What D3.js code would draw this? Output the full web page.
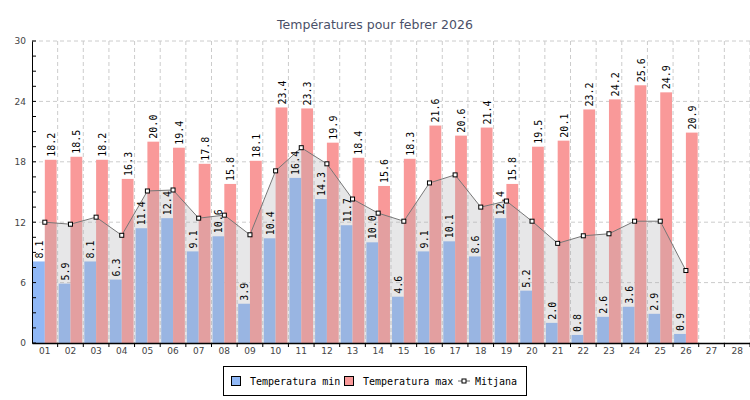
<!DOCTYPE html>
<html>
<head>
<meta charset="utf-8">
<script src="https://cdn.jsdelivr.net/npm/d3@7.9.0/dist/d3.min.js"></script>
<style>
body { margin: 0; background: #fff; }
svg { display: block; }
</style>
</head>
<body>
<svg id="chart" width="750" height="400"></svg>
<script>
const days = d3.range(1, 29).map(d => String(d).padStart(2, '0'));
const tMin = [8.1, 5.9, 8.1, 6.3, 11.4, 12.4, 9.1, 10.6, 3.9, 10.4, 16.4, 14.3, 11.7, 10.0,
  4.6, 9.1, 10.1, 8.6, 12.4, 5.2, 2.0, 0.8, 2.6, 3.6, 2.9, 0.9];
const tMax = [18.2, 18.5, 18.2, 16.3, 20.0, 19.4, 17.8, 15.8, 18.1, 23.4, 23.3, 19.9, 18.4, 15.6,
  18.3, 21.6, 20.6, 21.4, 15.8, 19.5, 20.1, 23.2, 24.2, 25.6, 24.9, 20.9];
const tMean = [12.0, 11.8, 12.5, 10.7, 15.1, 15.2, 12.4, 12.7, 10.75, 17.1, 19.4, 17.8, 14.3, 12.9,
  12.1, 15.9, 16.7, 13.5, 14.1, 12.1, 9.9, 10.65, 10.85, 12.1, 12.1, 7.2];
const yTicks = [0, 6, 12, 18, 24, 30];

const svg = d3.select('#chart');
const mLeft = 32, mRight = 750, mTop = 41, mBottom = 343;
const x = d3.scaleBand().domain(days).range([mLeft, mRight]);
const y = d3.scaleLinear().domain([0, 30]).range([mBottom, mTop]);
const bw = x.bandwidth();
const barW = bw * 0.46;
const blue = '#90b8f6', pink = '#f99999';
const mono = 'DejaVu Sans Mono, monospace';

svg.append('text')
  .attr('x', 375).attr('y', 29)
  .attr('text-anchor', 'middle')
  .attr('font-family', 'DejaVu Sans, sans-serif')
  .attr('font-size', 12.5)
  .attr('fill', '#4a5068')
  .text('Températures pour febrer 2026');

// grid
const grid = svg.append('g').attr('stroke', '#cccccc').attr('stroke-dasharray', '4,3');
yTicks.slice(1).forEach(t => {
  grid.append('line').attr('x1', mLeft).attr('x2', mRight).attr('y1', y(t)).attr('y2', y(t));
});
days.forEach(d => {
  const xx = x(d) + bw;
  grid.append('line').attr('x1', xx).attr('x2', xx).attr('y1', mTop).attr('y2', mBottom);
});

// bars
svg.append('g').selectAll('rect.min').data(tMin).join('rect')
  .attr('x', (v, i) => x(days[i]) + bw / 2 - barW)
  .attr('y', v => y(v))
  .attr('width', barW)
  .attr('height', v => y(0) - y(v))
  .attr('fill', blue);
svg.append('g').selectAll('rect.max').data(tMax).join('rect')
  .attr('x', (v, i) => x(days[i]) + bw / 2)
  .attr('y', v => y(v))
  .attr('width', barW)
  .attr('height', v => y(0) - y(v))
  .attr('fill', pink);

// mean area + line
const cx = i => x(days[i]) + bw / 2;
const area = d3.area().x((v, i) => cx(i)).y0(y(0)).y1(v => y(v));
svg.append('path').attr('d', area(tMean)).attr('fill', 'rgb(175,175,178)').attr('fill-opacity', 0.3);
const line = d3.line().x((v, i) => cx(i)).y(v => y(v));
svg.append('path').attr('d', line(tMean)).attr('fill', 'none').attr('stroke', '#777').attr('stroke-width', 1);
svg.append('g').selectAll('rect').data(tMean).join('rect')
  .attr('x', (v, i) => cx(i) - 2).attr('y', v => y(v) - 2)
  .attr('width', 4).attr('height', 4)
  .attr('fill', '#fff').attr('stroke', '#000').attr('stroke-width', 1);

// value labels
function labels(data, dx) {
  svg.append('g').selectAll('text').data(data).join('text')
    .attr('transform', (v, i) => `translate(${cx(i) + dx},${y(v) - 3}) rotate(-90)`)
    .attr('font-family', mono).attr('font-size', 10)
    .attr('fill', '#000')
    .text(v => v.toFixed(1));
}
labels(tMin, -barW / 2 + 4);
labels(tMax, barW / 2 + 4);

// axes
const yAxis = svg.append('g').attr('transform', `translate(${mLeft},0)`)
  .call(d3.axisLeft(y).tickValues(yTicks).tickSize(0).tickPadding(6));
yAxis.select('.domain').attr('stroke', '#000');
yAxis.selectAll('text').attr('font-family', 'DejaVu Sans, sans-serif').attr('font-size', 9).attr('fill', '#444');
d3.range(0, 30.1, 1.5).forEach(t => {
  yAxis.append('line').attr('x1', 0).attr('x2', 4).attr('y1', y(t)).attr('y2', y(t)).attr('stroke', '#000');
});

const xAxis = svg.append('g').attr('transform', `translate(0,${mBottom})`)
  .call(d3.axisBottom(x).tickSize(0).tickPadding(5));
xAxis.select('.domain').attr('stroke', '#000').attr('stroke-width', 1.5);
xAxis.selectAll('text').attr('font-family', 'DejaVu Sans, sans-serif').attr('font-size', 9).attr('fill', '#444');
days.forEach(d => {
  const xx = x(d) + bw;
  xAxis.append('line').attr('x1', xx).attr('x2', xx).attr('y1', 0).attr('y2', 4).attr('stroke', '#000');
});

// legend
const lg = svg.append('g');
lg.append('rect').attr('x', 223.5).attr('y', 366.5).attr('width', 303).attr('height', 29)
  .attr('fill', '#fff').attr('stroke', '#000');
const items = [
  { label: 'Temperatura min', color: blue, x: 231 },
  { label: 'Temperatura max', color: pink, x: 344 }
];
items.forEach(it => {
  lg.append('rect').attr('x', it.x + 0.5).attr('y', 376.5).attr('width', 9).attr('height', 9)
    .attr('fill', it.color).attr('stroke', '#000');
  lg.append('text').attr('x', it.x + 19).attr('y', 385)
    .attr('font-family', mono).attr('font-size', 10).attr('fill', '#000').text(it.label);
});
lg.append('line').attr('x1', 458).attr('x2', 470).attr('y1', 381).attr('y2', 381).attr('stroke', '#666');
lg.append('rect').attr('x', 462).attr('y', 379).attr('width', 4).attr('height', 4)
  .attr('fill', '#fff').attr('stroke', '#000');
lg.append('text').attr('x', 475).attr('y', 385)
  .attr('font-family', mono).attr('font-size', 10).attr('fill', '#000').text('Mitjana');
</script>
</body>
</html>
